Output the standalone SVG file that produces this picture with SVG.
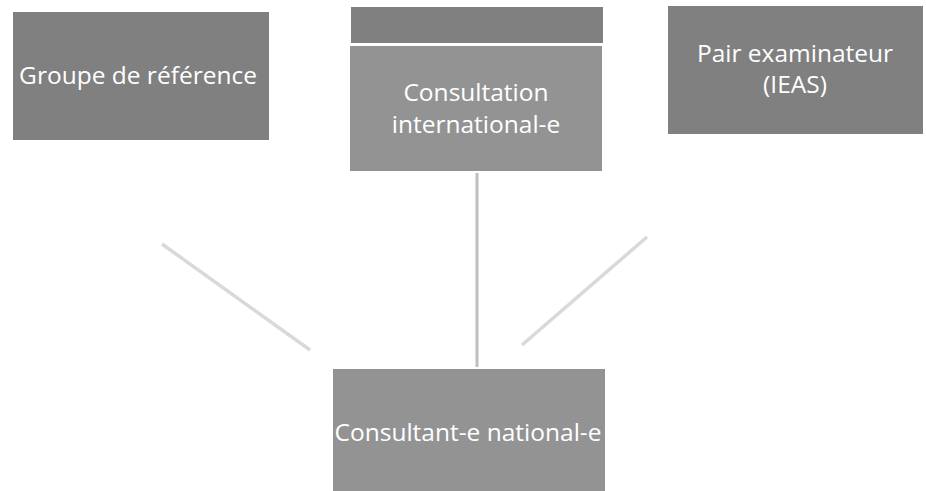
<svg xmlns="http://www.w3.org/2000/svg" width="926" height="491" viewBox="0 0 926 491">
<style>
.dark{fill:#808080}
.light{fill:#939393}
.t{font-family:"Open Sans","Liberation Sans",sans-serif;font-size:24.5px;fill:#ffffff;text-anchor:middle}
.c{fill:none;stroke-linecap:butt}
</style>
<rect width="926" height="491" fill="#ffffff"/>
<g id="connectors">
<line class="c" x1="162" y1="244" x2="310" y2="350" stroke="#d9d9d9" stroke-width="3.5"/>
<line class="c" x1="477" y1="173" x2="477" y2="367" stroke="#bfbfbf" stroke-width="3"/>
<line class="c" x1="647" y1="237" x2="522" y2="345" stroke="#d9d9d9" stroke-width="3.5"/>
</g>
<g id="groupe-reference">
<rect class="dark" x="13" y="12" width="256" height="128"/>
<text class="t" x="138" y="84">Groupe de référence</text>
</g>
<g id="consultation-internationale">
<rect class="dark" x="351" y="7" width="252" height="36"/>
<rect class="light" x="350" y="46" width="252" height="125"/>
<text class="t" x="476" y="101">Consultation</text>
<text class="t" x="476" y="133">international-e</text>
</g>
<g id="pair-examinateur">
<rect class="dark" x="668" y="6" width="255" height="128"/>
<text class="t" x="795" y="62">Pair examinateur</text>
<text class="t" x="795" y="93">(IEAS)</text>
</g>
<g id="consultant-national">
<rect class="light" x="333" y="369" width="272" height="122"/>
<text class="t" x="468" y="441">Consultant-e national-e</text>
</g>
</svg>
